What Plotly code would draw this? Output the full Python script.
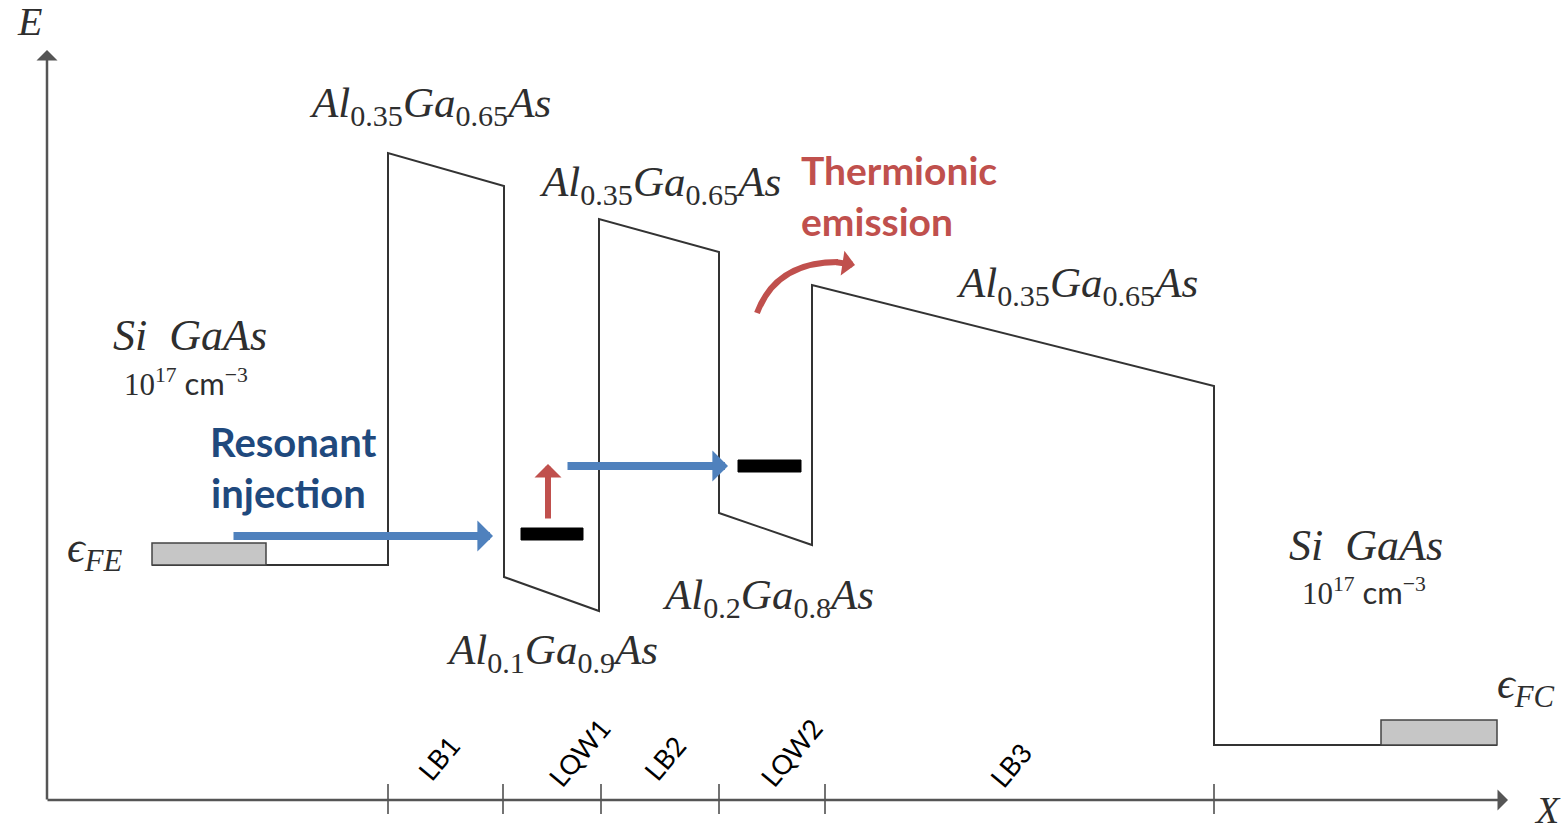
import plotly.graph_objects as go

# ---------------- data (x in arbitrary position units, E in arbitrary energy units) -------------
band_x = [152, 388, 388, 504, 504, 599, 599, 719, 719, 812, 812, 1214, 1214, 1497]
band_E = [269, 269, 681, 648, 257, 223, 615, 582, 321, 289, 549, 448, 89, 89]

region_bounds = [388, 503, 601, 719, 825, 1214]
region_labels = ["LB1", "LQW1", "LB2", "LQW2", "LB3"]
region_label_x = [438, 579, 664, 791, 1010]

fermi_left = dict(x0=152, x1=266, E0=269, E1=291)
fermi_right = dict(x0=1381, x1=1497, E0=89, E1=114)

level_x0 = [521, 738]
level_x1 = [583, 801]
level_E = [300, 368]

W, H = 1567, 834
def E(py):
    return H - py

SERIF = "Liberation Serif"
SANS = "Lato"
TEXT_COLOR = "#2e2e2e"

fig = go.Figure()

# band profile
fig.add_trace(go.Scatter(x=band_x, y=band_E, mode="lines",
                         line=dict(color="#333333", width=2), hoverinfo="skip", showlegend=False))

shapes = []
for fb in (fermi_left, fermi_right):
    shapes.append(dict(type="rect", xref="x", yref="y", x0=fb["x0"], x1=fb["x1"], y0=fb["E0"], y1=fb["E1"],
                       fillcolor="#c6c6c6", line=dict(color="#444444", width=1.5)))
for a, b, e in zip(level_x0, level_x1, level_E):
    shapes.append(dict(type="rect", xref="x", yref="y", x0=a, x1=b, y0=e - 6, y1=e + 6,
                       fillcolor="black", line=dict(color="black", width=1)))
for xb in region_bounds:
    shapes.append(dict(type="line", xref="x", yref="y", x0=xb, x1=xb, y0=E(814), y1=E(784),
                       line=dict(color="#444444", width=1.5)))
shapes.append(dict(type="path", xref="x", yref="y",
                   path=f"M 757,{E(313)} Q 776,{E(262)} 838,{E(262)}",
                   line=dict(color="#c0504d", width=6)))

annotations = []
def arrow(x, y, ax, ay, color, width, size):
    annotations.append(dict(x=x, y=y, ax=ax, ay=ay, xref="x", yref="y", axref="x", ayref="y",
                            showarrow=True, arrowhead=1, arrowsize=size, arrowwidth=width,
                            arrowcolor=color, text=""))

arrow(47, E(50), 47, E(801), "#555555", 2.5, 1.4)
arrow(1508, E(800), 46, E(800), "#555555", 2.5, 1.4)
arrow(493, E(536), 232, E(536), "#4f81bd", 8, 0.65)
arrow(728, E(466), 566, E(466), "#4f81bd", 8, 0.65)
arrow(548, E(464), 548, E(520), "#c0504d", 6, 0.75)
arrow(855, E(265), 835, E(262), "#c0504d", 6, 0.7)

UP = '<span style="font-style:normal">'
def alloy(a, b):
    return f"Al<sub>{UP}{a}</span></sub>Ga<sub>{UP}{b}</span></sub>As"

def txt(x, py, text, size, fam, color=TEXT_COLOR, xanchor="center", angle=0, style="normal", weight="normal"):
    annotations.append(dict(x=x, y=E(py), xref="x", yref="y", text=text, showarrow=False,
                            font=dict(family=fam, size=size, color=color, style=style, weight=weight),
                            xanchor=xanchor, yanchor="middle", textangle=angle))

ALLOY_SIZE = 43
txt(430, 106, alloy("0.35", "0.65"), ALLOY_SIZE, SERIF, style="italic")
txt(660, 185, alloy("0.35", "0.65"), ALLOY_SIZE, SERIF, style="italic")
txt(1077, 286, alloy("0.35", "0.65"), ALLOY_SIZE, SERIF, style="italic")
txt(552, 653, alloy("0.1", "0.9"), ALLOY_SIZE, SERIF, style="italic")
txt(768, 598, alloy("0.2", "0.8"), ALLOY_SIZE, SERIF, style="italic")

CONC = '10<sup>17</sup> <span style="font-family:Lato">cm</span><sup>−3</sup>'
txt(190, 335, "Si\u2002GaAs", 44, SERIF, style="italic")
txt(186, 382, CONC, 31, SERIF)
txt(1366, 545, "Si\u2002GaAs", 44, SERIF, style="italic")
txt(1364, 591, CONC, 31, SERIF)

txt(95, 550, "ϵ<sub>FE</sub>", 44, SERIF, style="italic")
txt(1526, 686, "ϵ<sub>FC</sub>", 44, SERIF, style="italic")

txt(29, 21, "E", 40, SERIF, style="italic")
txt(1547, 810, "X", 38, SERIF, style="italic")

txt(293, 442, "Resonant", 40, SANS, color="#1f497d", weight="bold")
txt(288, 493, "injection", 40, SANS, color="#1f497d", weight="bold")
txt(799, 170, "Thermionic", 39, SANS, color="#c0504d", xanchor="left", weight="bold")
txt(799, 221, "emission", 39, SANS, color="#c0504d", xanchor="left", weight="bold")

for lab, lx in zip(region_labels, region_label_x):
    py = 752 if lab.startswith("LQW") else 758
    if lab == "LB3":
        py = 765
    txt(lx, py, lab, 27, SANS, color="black", angle=-50)

fig.update_layout(
    width=W, height=H, margin=dict(l=0, r=0, t=0, b=0),
    font=dict(family=SERIF),
    paper_bgcolor="white", plot_bgcolor="white",
    xaxis=dict(range=[0, W], visible=False, fixedrange=True),
    yaxis=dict(range=[0, H], visible=False, fixedrange=True),
    shapes=shapes, annotations=annotations, showlegend=False,
)

fig.write_html("out.html")
